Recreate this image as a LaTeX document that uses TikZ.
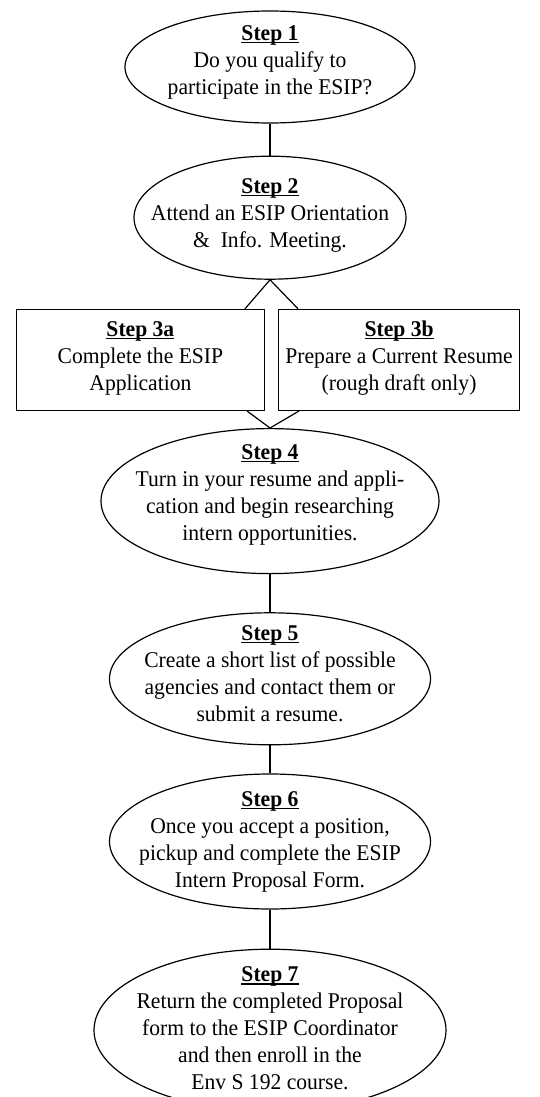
\documentclass[tikz,border=0pt]{standalone}
\usepackage{fontspec}
\setmainfont{Liberation Serif}[FakeStretch=0.96]
\usepackage{tikz}
\usetikzlibrary{shapes.geometric}
\usetikzlibrary{positioning}
\newcommand{\steptext}{\fontsize{22.5}{27}\selectfont}
\newcommand{\stephead}[1]{\setbox0\hbox{\textbf{#1}}\rlap{\rule[-3pt]{\wd0}{1.2pt}}\box0}
\tikzset{
    oval/.style={
           ellipse,
           draw=black, line width=1.2pt,
           inner sep=0pt,
           },
    stepbox/.style={
           rectangle,
           draw=black, line width=1.2pt,
           minimum height=101pt,
           inner sep=0pt,
           text centered,
           font=\steptext,
           },
    frameless/.style={
           %rectangle,
           %draw=black,
           inner sep=0pt,
           text centered,
           font=\steptext,
           },
}

\begin{document}
\begin{tikzpicture}
	\useasboundingbox (0,0) rectangle (540pt,-1097pt);
	\tikzset{link/.style={line width=1.2pt},};
	
	\node[oval, minimum width=290pt, minimum height=112pt] (e1) at (270pt,-67pt) {};
	\node[frameless, yshift=5pt] (t1) at (e1.center) {\begin{tabular}{c}
										\stephead{Step 1}\\
										Do you qualify to\\
										participate in the ESIP?
									\end{tabular}};
	\node[oval, below=32pt of e1, minimum width=272pt, minimum height=123pt] (e2) {};
	\node[frameless, yshift=3pt] (t2) at (e2.center) {\begin{tabular}{c}
										\stephead{Step 2}\\
										Attend an ESIP Orientation\\
										\& ~Info. Meeting.
									\end{tabular}};
	
	%step 3 boxes
	\node[stepbox, minimum width=248pt, anchor=north east] (b3a) at ([xshift=-5pt,yshift=-29pt]e2.south) {};
	\node[frameless, yshift=2pt] (t3a) at (b3a.center) {\begin{tabular}{c}
										\stephead{Step 3a}\\
										Complete the ESIP\\
										Application
									\end{tabular}};
	\node[stepbox, minimum width=241pt, anchor=north west] (b3b) at ([xshift=8pt,yshift=-29pt]e2.south) {};
	\node[frameless, yshift=2pt] (t3b) at (b3b.center) {\begin{tabular}{c}
										\stephead{Step 3b}\\
										Prepare a Current Resume\\
										(rough draft only)
									\end{tabular}};
	
	\node[oval, minimum width=338pt, minimum height=145pt, anchor=north] (e4) at ([yshift=-17pt]e2.south |- b3a.south) {};
	\node[frameless, yshift=7pt] (t4) at (e4.center) {\begin{tabular}{c}
										\stephead{Step 4}\\
										Turn in your resume and appli-\\
										cation and begin researching\\
										intern opportunities.
									\end{tabular}};
	\node[oval, below=38pt of e4, minimum width=321pt, minimum height=132pt] (e5) {};
	\node[frameless, yshift=3.5pt] (t5) at (e5.center) {\begin{tabular}{c}
										\stephead{Step 5}\\
										Create a short list of possible\\
										agencies and contact them or\\
										submit a resume.
									\end{tabular}};
	\node[oval, below=28pt of e5, minimum width=321pt, minimum height=135pt] (e6) {};
	\node[frameless] (t6) at (e6.center) {\begin{tabular}{c}
										\stephead{Step 6}\\
										Once you accept a position,\\
										pickup and complete the ESIP\\
										Intern Proposal Form.
									\end{tabular}};
	\node[oval, below=39pt of e6, minimum width=352pt, minimum height=162pt] (e7) {};
	\node[frameless] (t7) at (e7.center) {\begin{tabular}{c}
										\stephead{Step 7}\\
										Return the completed Proposal\\
										form to the ESIP Coordinator\\
										and then enroll in the\\
										Env S 192 course.
									\end{tabular}};
	
	%EDGES
	\path[link]	(e1.south) edge (e2.north)
				(e2.south) edge ([xshift=-20pt]b3a.north east)
				(e2.south) edge ([xshift=20pt]b3b.north west)
				([xshift=-18pt]b3a.south east) edge (e4.north)
				([xshift=21pt]b3b.south west) edge (e4.north)
				(e4.south) edge (e5.north)
				(e5.south) edge (e6.north)
				(e6.south) edge (e7.north);
	
\end{tikzpicture}
\end{document}
